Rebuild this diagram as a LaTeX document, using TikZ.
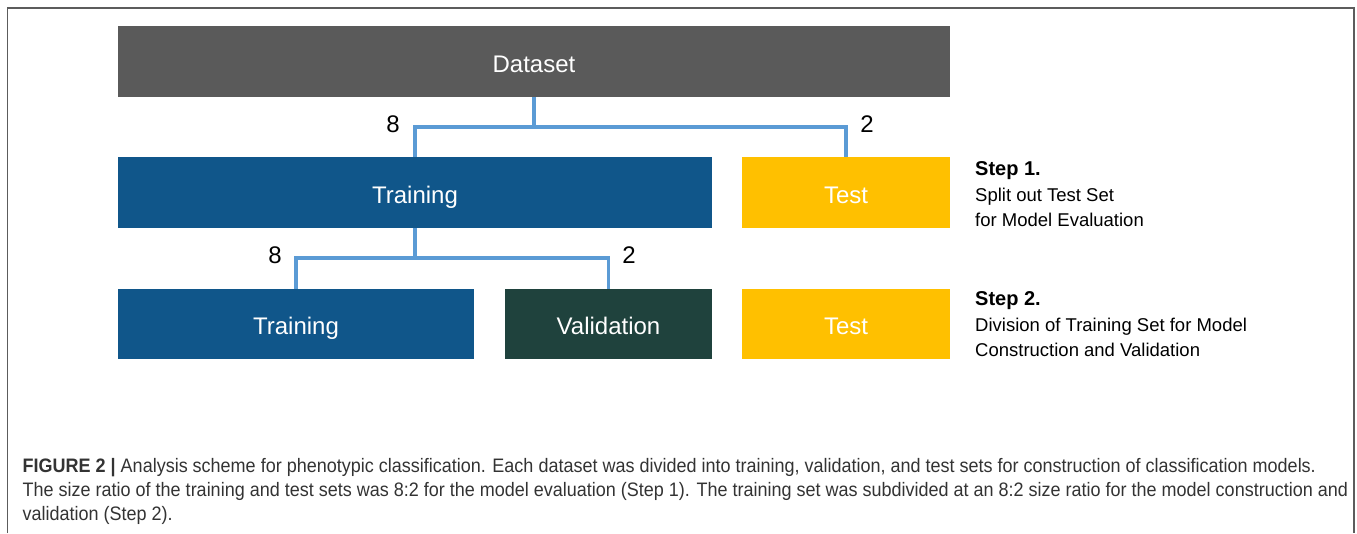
\documentclass[tikz,border=0pt]{standalone}
\usepackage{fontspec}
\setmainfont{Liberation Sans}
\newfontfamily\capfont[FakeStretch=0.923]{Liberation Sans}
\usetikzlibrary{positioning}
\definecolor{bordergray}{HTML}{5C5C5C}
\definecolor{dsgray}{HTML}{5A5A5A}
\definecolor{trainblue}{HTML}{10568A}
\definecolor{validgreen}{HTML}{1F423D}
\definecolor{testgold}{HTML}{FFC000}
\definecolor{splitblue}{HTML}{5B9BD5}
\definecolor{captext}{HTML}{333333}
\tikzset{
  box/.style={inner sep=0pt,outer sep=0pt,minimum height=71pt,text height=21.6pt,text depth=0pt,text=white,font=\fontsize{24}{28}\selectfont},
  dataset/.style={box,fill=dsgray},
  train/.style={box,fill=trainblue},
  valid/.style={box,fill=validgreen},
  testset/.style={box,fill=testgold},
  splitline/.style={draw=splitblue,line width=3.2pt},
  ratio/.style={inner sep=0pt,font=\fontsize{24}{28}\selectfont},
  stephead/.style={inner sep=0pt,anchor=base west,font=\bfseries\fontsize{20}{24}\selectfont},
  stepnote/.style={inner sep=0pt,align=left,font=\fontsize{18.5}{24.5}\selectfont},
  border/.style={draw=bordergray,line width=1.6pt},
  caption/.style={inner sep=0pt,anchor=north west,align=left,text=captext,font=\capfont\fontsize{19.5}{24.2}\selectfont}
}

\begin{document}
\begin{tikzpicture}[x=1pt,y=1pt]
\useasboundingbox (0,0) rectangle (1357,-533);
\draw[border] (7.5,-533) -- (7.5,-8) -- (1354,-8) -- (1354,-533);

% boxes
\node[dataset,minimum width=832pt] (dataset) at (534,-61.5) {Dataset};
\node[train,minimum width=594pt,below=60pt of dataset.south west,anchor=north west] (train1) {Training};
\node[testset,minimum width=208pt,right=30pt of train1] (test1) {Test};
\node[train,minimum width=356pt,minimum height=70pt,below=61pt of train1.south west,anchor=north west] (train2) {Training};
\node[valid,minimum width=207pt,minimum height=70pt,right=31pt of train2] (valid) {Validation};
\node[testset,minimum width=208pt,minimum height=70pt,right=30pt of valid] (test2) {Test};

% splits
\coordinate[below=30pt of dataset.south] (fork1);
\coordinate[below=30pt of train1.south] (fork2);
\draw[splitline] (dataset.south) -- (fork1);
\draw[splitline] (fork1) -| (train1.north);
\draw[splitline] (fork1) -| (test1.north);
\draw[splitline] (train1.south) -- (fork2);
\draw[splitline] (fork2) -| (train2.north);
\draw[splitline] (fork2) -| (valid.north);
\node[ratio] (r1train) at (393,-124) {8};
\node[ratio] (r1test) at (867,-124) {2};
\node[ratio] (r2train) at (275,-255) {8};
\node[ratio] (r2valid) at (629,-255) {2};

% step notes
\node[stephead] (step1) at (975,-175) {Step 1.};
\node[stepnote,below=13pt of step1.base west,anchor=north west] (note1) {Split out Test Set\\for Model Evaluation};
\node[stephead] (step2) at (975,-305) {Step 2.};
\node[stepnote,below=13pt of step2.base west,anchor=north west] (note2) {Division of Training Set for Model\\Construction and Validation};

% caption
\node[caption] (figcap) at (22.5,-458) {{\bfseries FIGURE 2 |} Analysis scheme for phenotypic classification. Each dataset was divided into training, validation, and test sets for construction of classification models.\\The size ratio of the training and test sets was 8:2 for the model evaluation (Step 1). The training set was subdivided at an 8:2 size ratio for the model construction and\\validation (Step 2).};
\end{tikzpicture}
\end{document}
